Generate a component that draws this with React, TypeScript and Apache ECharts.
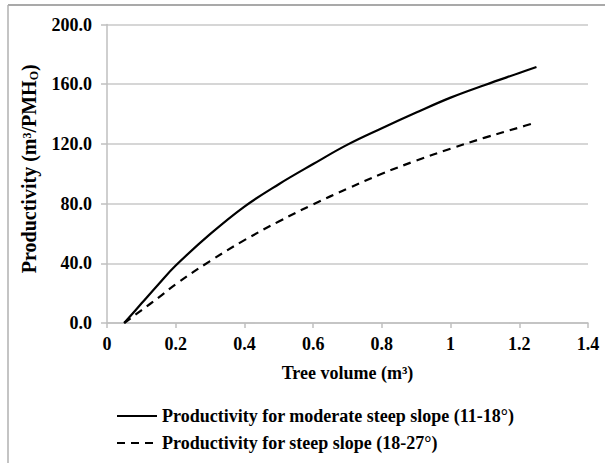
import React, { useEffect, useRef } from "react";
import * as echarts from "echarts";

const volumes = [0.05, 0.1, 0.15, 0.2, 0.3, 0.4, 0.5, 0.6, 0.7, 0.8, 0.9, 1.0, 1.1, 1.2, 1.25];
const moderateValues = [0, 13, 26, 38.5, 59.5, 78, 93, 106.5, 119.5, 130.5, 141, 151, 159.5, 167.5, 171.5];
const steepValues = [0, 8.5, 17, 26, 41.5, 55.5, 68, 79.5, 90, 100, 108.8, 116.8, 124.2, 131, 134.5];
const xTicks = { min: 0, max: 1.4, interval: 0.2 };
const yTicks = { min: 0, max: 200, interval: 40 };
const seriesNames = [
  "Productivity for moderate steep slope (11-18°)",
  "Productivity for steep slope (18-27°)",
];

const FONT = '"Liberation Serif", "Times New Roman", serif';

export default function App() {
  const ref = useRef<HTMLDivElement>(null);
  useEffect(() => {
    if (!ref.current) return;
    const chart = echarts.init(ref.current, null, { renderer: "svg" });
    const textBase = { fontFamily: FONT, fontWeight: "bold" as const, color: "#000", fontSize: 18 };
    const nameBase = { ...textBase, fontSize: 20 };
    chart.setOption({
      animation: false,
      backgroundColor: "#fff",
      grid: { left: 107, top: 24.5, right: 17, bottom: 140, containLabel: false },
      xAxis: {
        type: "value",
        min: xTicks.min,
        max: xTicks.max,
        interval: xTicks.interval,
        name: "Tree volume (m³)",
        nameLocation: "middle",
        nameGap: 41,
        nameTextStyle: { ...textBase },
        axisLine: { show: true, lineStyle: { color: "#bfbfbf", width: 1.5 } },
        axisTick: { show: true, length: 5, lineStyle: { color: "#bfbfbf", width: 1.5 } },
        axisLabel: { ...textBase, margin: 12 },
        splitLine: { show: false },
      },
      yAxis: {
        type: "value",
        min: yTicks.min,
        max: yTicks.max,
        interval: yTicks.interval,
        name: "{a|Productivity (m³/PMH}{s|O}{a|)}",
        nameLocation: "middle",
        nameGap: 67,
        nameTextStyle: {
          ...nameBase,
          padding: [0, 0, 0, 10],
          rich: {
            a: { ...nameBase, lineHeight: 22 },
            s: { ...nameBase, fontSize: 12, lineHeight: 22, verticalAlign: "bottom", padding: [7, 0, 0, 0] },
          },
        },
        axisLine: { show: true, lineStyle: { color: "#bfbfbf", width: 1.5 } },
        axisTick: { show: true, length: 6, lineStyle: { color: "#bfbfbf", width: 1.5 } },
        axisLabel: { ...textBase, margin: 15, formatter: (v: number) => v.toFixed(1) },
        splitLine: { show: true, lineStyle: { color: "#c8c8c8", width: 1.5 } },
      },
      legend: {
        orient: "vertical",
        left: 116,
        top: 407,
        padding: 0,
        itemWidth: 40,
        itemHeight: 14,
        itemGap: 9,
        itemStyle: { opacity: 0 },
        textStyle: { ...textBase, lineHeight: 18 },
        data: seriesNames,
      },
      series: [
        {
          name: seriesNames[0],
          type: "line",
          smooth: 0.4,
          symbol: "none",
          lineStyle: { color: "#000", width: 2.2, type: "solid" },
          itemStyle: { color: "#000" },
          data: volumes.map((v, i) => [v, moderateValues[i]]),
        },
        {
          name: seriesNames[1],
          type: "line",
          smooth: 0.4,
          symbol: "none",
          lineStyle: { color: "#000", width: 2.2, type: [8, 6] },
          itemStyle: { color: "#000" },
          data: volumes.map((v, i) => [v, steepValues[i]]),
        },
      ],
      graphic: [
        { type: "line", shape: { x1: 8, y1: 5, x2: 605, y2: 5 }, style: { stroke: "#8c8c8c", lineWidth: 1.5 } },
        { type: "line", shape: { x1: 8, y1: 5, x2: 8, y2: 463 }, style: { stroke: "#b0b0b0", lineWidth: 1.5 } },
      ],
    });
    return () => chart.dispose();
  }, []);
  return <div ref={ref} style={{ position: "fixed", left: 0, top: 0, width: 605, height: 463 }} />;
}
